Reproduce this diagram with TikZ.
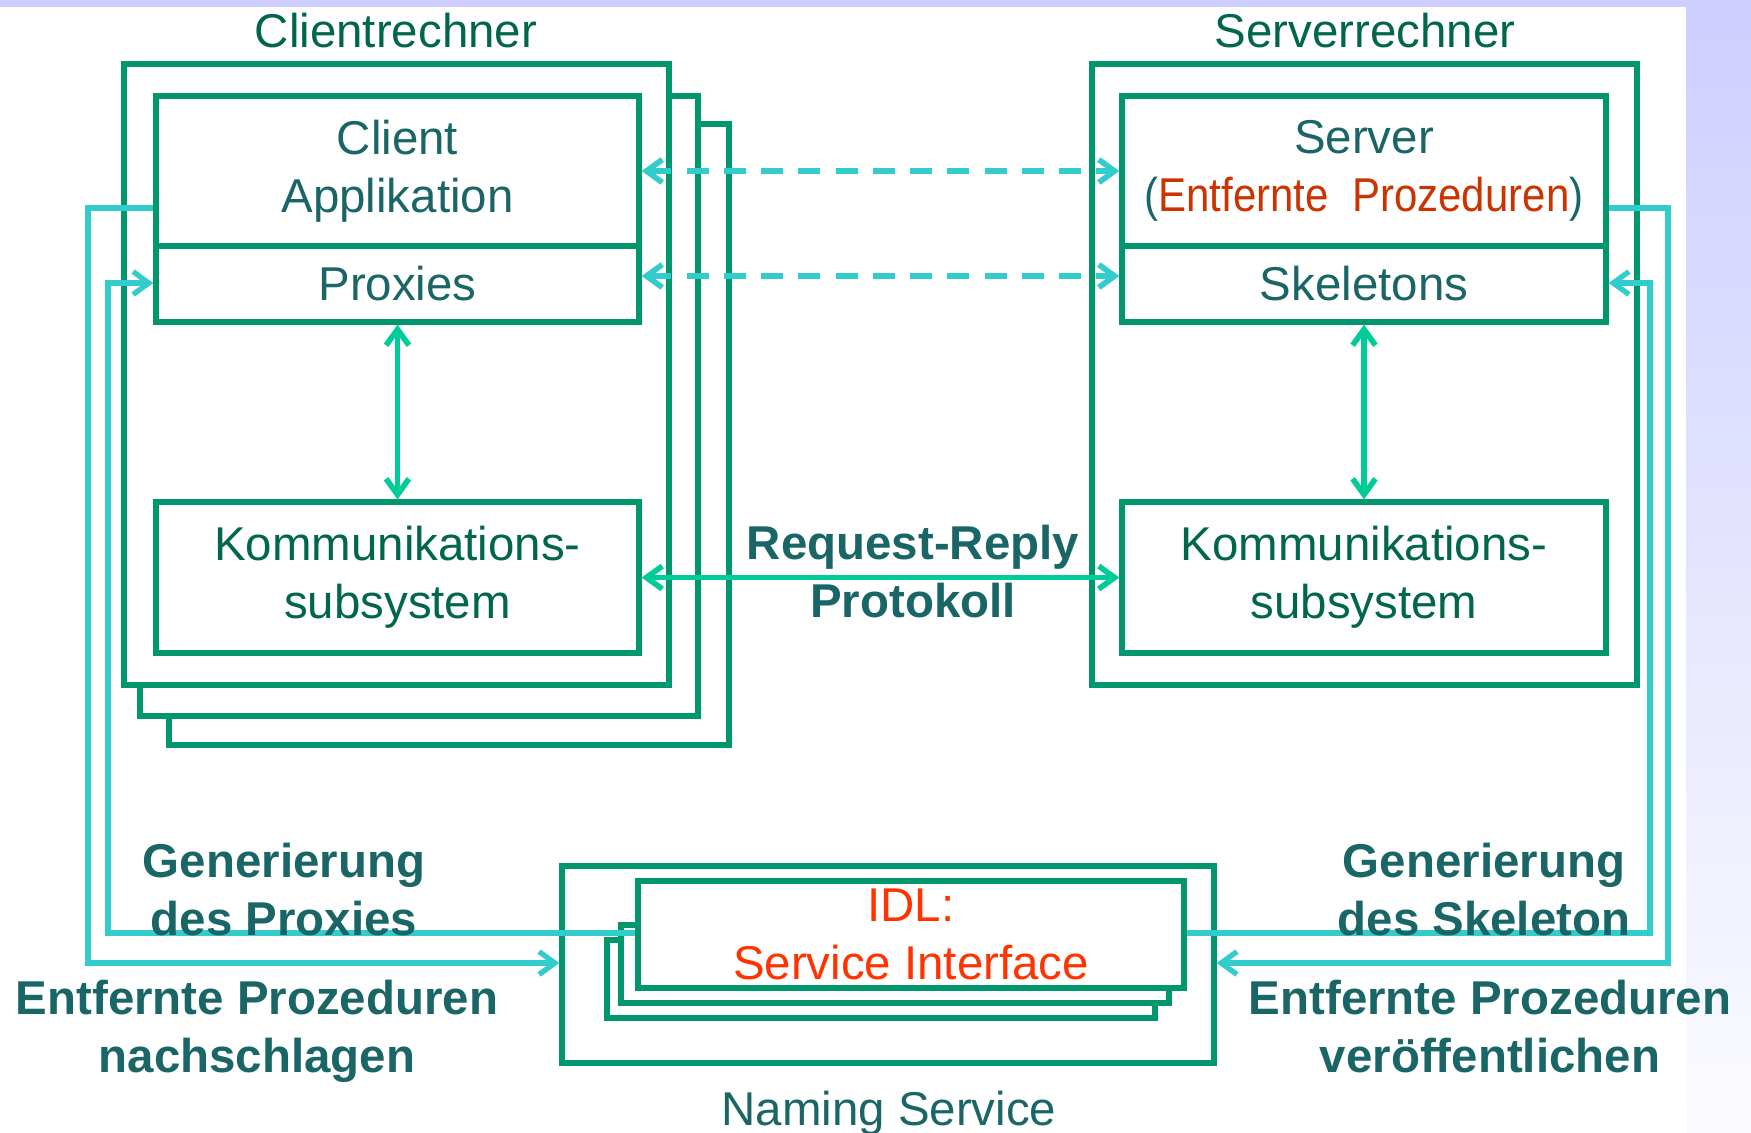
\documentclass[tikz,border=0pt]{standalone}
\usepackage{fontspec}
\usepackage{graphicx}
\setmainfont{Liberation Sans}
\usetikzlibrary{arrows.meta}

\definecolor{boxgreen}{RGB}{0,150,110}
\definecolor{titlegreen}{RGB}{0,102,76}
\definecolor{textteal}{RGB}{26,102,102}
\definecolor{linecyan}{RGB}{51,204,204}
\definecolor{arrowgreen}{RGB}{0,204,153}
\definecolor{procred}{RGB}{204,51,0}
\definecolor{idlred}{RGB}{255,51,0}
\definecolor{lavender}{RGB}{206,206,255}

\begin{document}
\begin{tikzpicture}
    [
    x=0.1mm,y=-0.1mm,
    >={Straight Barb[length=4.5pt,width=6.5pt]},
    box/.style={draw=boxgreen,line width=1.5pt,fill=white,inner sep=0pt},
    txt/.style={font=\fontsize{13.5}{16.5}\selectfont,text=textteal,align=center},
    boldtxt/.style={txt,font=\fontsize{13.5}{16.5}\selectfont\bfseries},
    layer/.style={box,txt,minimum width=48.3mm},
    callline/.style={draw=linecyan,line width=1.6pt,dash pattern=on 6.3pt off 4.3pt,<->},
    protoline/.style={draw=arrowgreen,line width=1.6pt,<->},
    genline/.style={draw=linecyan,line width=1.5pt,->},
    ]
    % background
    \useasboundingbox (0,0) rectangle (1751,1132);
    \fill[white] (0,0) rectangle (1751,1132);
    \shade[top color=lavender,bottom color=lavender!8] (1686,0) rectangle (1751,1132);
    \fill[lavender] (0,0) rectangle (1751,7);

    % client machine (stacked)
    \node (ctitle) at (396,47) [txt,text=titlegreen,anchor=base] {Clientrechner};
    \draw[box] (169,124) rectangle (729,745);
    \draw[box] (140,96) rectangle (698,716);
    \draw[box] (124,64) rectangle (669,685);
    \node (capp) at (397.5,171) [layer,minimum height=15mm] {Client\\Applikation};
    \node (prox) at (397.5,284) [layer,minimum height=7.6mm] {Proxies};
    \node (ckomm) at (397.5,577.5) [layer,minimum height=15.1mm,text=titlegreen] {Kommunikations-\\subsystem};

    % server machine
    \node (stitle) at (1365,47) [txt,text=titlegreen,anchor=base] {Serverrechner};
    \draw[box] (1092,64) rectangle (1637,685);
    \node (server) at (1364,171) [layer,minimum width=48.4mm,minimum height=15mm]
      {Server\\\scalebox{0.885}[1]{(\textcolor{procred}{Entfernte\ \ Prozeduren})}};
    \node (skel) at (1364,284) [layer,minimum width=48.4mm,minimum height=7.6mm] {Skeletons};
    \node (skomm) at (1364,577.5) [layer,minimum width=48.4mm,minimum height=15.1mm,text=titlegreen] {Kommunikations-\\subsystem};

    % naming service
    \node (naming) at (888,964.5) [box,minimum width=65.2mm,minimum height=19.7mm] {};
    \draw[box] (607,940) rectangle (1155,1018);
    \draw[box] (621,925) rectangle (1169,1003);
    \node (idl) at (911,934.5) [box,txt,text=idlred,minimum width=54.6mm,minimum height=10.7mm] {IDL:\\Service Interface};
    \node (nlabel) at (889,1125) [txt,anchor=base] {Naming Service};

    % calls between the machines
    \draw[callline] (capp.east) -- (server.west);
    \draw[callline] (prox.east |- 0,276) -- (skel.west |- 0,276);
    \draw[protoline] (prox) -- (ckomm);
    \draw[protoline] (skel) -- (skomm);
    \draw[protoline] (ckomm) -- (skomm);
    \node (proto) at (913,617) [boldtxt,anchor=base] {Request-Reply\\Protokoll};

    % generation and lookup
    \draw[genline] (capp.west |- 0,208) -| (88,963) -- (naming.west |- 0,963);
    \draw[genline] (idl.west |- 0,933) -| (108,283) -- (prox.west |- 0,283);
    \draw[genline] (server.east |- 0,208) -| (1668,963) -- (naming.east |- 0,963);
    \draw[genline] (idl.east |- 0,933) -| (1650,283) -- (skel.east |- 0,283);
    \node (gprox) at (284,935) [boldtxt,anchor=base] {Generierung\\des Proxies};
    \node (lookup) at (257,1072) [boldtxt,anchor=base] {Entfernte Prozeduren\\nachschlagen};
    \node (gskel) at (1484,935) [boldtxt,anchor=base] {Generierung\\des Skeleton};
    \node (publish) at (1490,1072) [boldtxt,anchor=base] {Entfernte Prozeduren\\veröffentlichen};
\end{tikzpicture}
\end{document}
